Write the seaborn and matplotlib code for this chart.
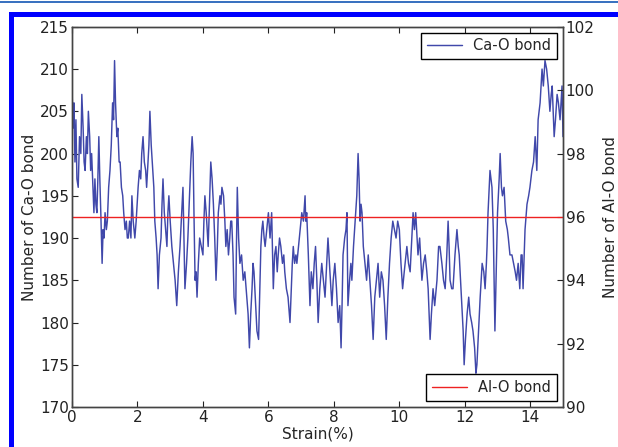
import numpy as np
import matplotlib
matplotlib.use('Agg')
import matplotlib.pyplot as plt
import seaborn as sns
from matplotlib.patches import Rectangle

# Ca-O bond count (strain in %)
strain = [
    0.00, 0.03, 0.06, 0.09, 0.12, 0.15, 0.19, 0.23, 0.27, 0.30, 0.34, 0.37, 0.40, 0.44, 0.47,
    0.50, 0.54, 0.57, 0.60, 0.64, 0.67, 0.70, 0.73, 0.76, 0.79, 0.82, 0.85, 0.88, 0.92, 0.95,
    0.98, 1.01, 1.05, 1.08, 1.12, 1.16, 1.20, 1.24, 1.27, 1.30, 1.33, 1.37, 1.40, 1.44, 1.47,
    1.51, 1.55, 1.58, 1.62, 1.66, 1.69, 1.72, 1.76, 1.80, 1.83, 1.87, 1.92, 1.96, 2.02, 2.06,
    2.10, 2.13, 2.17, 2.21, 2.25, 2.28, 2.32, 2.35, 2.38, 2.42, 2.47, 2.50, 2.53, 2.57, 2.60,
    2.63, 2.67, 2.72, 2.75, 2.78, 2.82, 2.86, 2.90, 2.93, 2.96, 3.00, 3.05, 3.10, 3.15, 3.20,
    3.25, 3.30, 3.35, 3.39, 3.42, 3.45, 3.50, 3.54, 3.58, 3.63, 3.67, 3.70, 3.73, 3.76, 3.79,
    3.82, 3.86, 3.90, 3.95, 4.00, 4.03, 4.06, 4.10, 4.13, 4.16, 4.20, 4.24, 4.28, 4.32, 4.36,
    4.40, 4.44, 4.47, 4.52, 4.55, 4.58, 4.63, 4.67, 4.70, 4.74, 4.78, 4.82, 4.85, 4.88, 4.92,
    4.95, 5.00, 5.02, 5.05, 5.09, 5.13, 5.18, 5.23, 5.28, 5.34, 5.38, 5.42, 5.46, 5.50, 5.53,
    5.56, 5.60, 5.65, 5.70, 5.74, 5.77, 5.80, 5.83, 5.87, 5.90, 5.95, 6.00, 6.05, 6.10, 6.15,
    6.19, 6.23, 6.27, 6.30, 6.34, 6.38, 6.43, 6.47, 6.50, 6.55, 6.60, 6.66, 6.70, 6.73, 6.76,
    6.80, 6.84, 6.87, 6.92, 6.97, 7.02, 7.07, 7.12, 7.14, 7.17, 7.22, 7.27, 7.31, 7.36, 7.40,
    7.44, 7.48, 7.52, 7.57, 7.63, 7.68, 7.73, 7.78, 7.82, 7.88, 7.94, 7.98, 8.03, 8.08, 8.13,
    8.18, 8.22, 8.25, 8.28, 8.33, 8.37, 8.40, 8.43, 8.48, 8.52, 8.55, 8.60, 8.65, 8.70, 8.74,
    8.77, 8.80, 8.83, 8.86, 8.90, 8.95, 9.00, 9.05, 9.10, 9.15, 9.20, 9.25, 9.30, 9.35, 9.40,
    9.45, 9.50, 9.55, 9.60, 9.65, 9.70, 9.75, 9.80, 9.85, 9.90, 9.95, 10.00, 10.05, 10.10, 10.15,
    10.23, 10.28, 10.33, 10.38, 10.42, 10.46, 10.50, 10.54, 10.57, 10.62, 10.66, 10.69, 10.74, 10.79, 10.84,
    10.88, 10.94, 10.98, 11.03, 11.08, 11.15, 11.20, 11.24, 11.30, 11.35, 11.40, 11.45, 11.49, 11.52, 11.55,
    11.60, 11.64, 11.70, 11.76, 11.80, 11.83, 11.87, 11.90, 11.95, 11.98, 12.02, 12.07, 12.12, 12.16, 12.21,
    12.25, 12.30, 12.34, 12.37, 12.42, 12.47, 12.53, 12.58, 12.62, 12.66, 12.68, 12.71, 12.77, 12.80, 12.83,
    12.87, 12.90, 12.92, 12.96, 13.00, 13.05, 13.08, 13.12, 13.15, 13.20, 13.25, 13.30, 13.33, 13.38, 13.44,
    13.49, 13.54, 13.58, 13.63, 13.68, 13.72, 13.75, 13.78, 13.84, 13.90, 13.95, 13.99, 14.05, 14.10, 14.15,
    14.20, 14.24, 14.30, 14.36, 14.40, 14.45, 14.50, 14.55, 14.60, 14.64, 14.67, 14.70, 14.73, 14.77, 14.82,
    14.86, 14.91, 14.94, 14.97, 15.00,
]
ca_o = [
    208, 203, 206, 199, 204, 197, 196, 202, 200, 207, 203, 199, 198, 202, 200,
    205, 202, 198, 200, 196, 193, 197, 194, 193, 197, 202, 197, 193, 187, 191,
    190, 193, 191, 192, 196, 198, 201, 206, 204, 211, 206, 202, 203, 199, 199,
    196, 195, 193, 191, 192, 190, 190, 192, 190, 195, 192, 190, 192, 196, 198,
    197, 200, 202, 199, 198, 196, 199, 201, 205, 201, 198, 196, 192, 190, 188,
    184, 188, 190, 194, 197, 193, 191, 189, 193, 195, 192, 189, 187, 185, 182,
    186, 189, 193, 196, 190, 184, 187, 190, 194, 199, 202, 200, 192, 185, 186,
    183, 187, 190, 189, 188, 192, 195, 193, 191, 189, 194, 199, 197, 194, 190,
    185, 189, 193, 195, 194, 196, 195, 192, 189, 191, 188, 190, 192, 192, 188,
    183, 181, 188, 196, 190, 187, 188, 185, 186, 183, 181, 177, 181, 184, 187,
    186, 183, 179, 178, 184, 189, 191, 192, 190, 189, 191, 193, 190, 193, 184,
    188, 189, 186, 188, 190, 189, 187, 188, 186, 184, 183, 180, 184, 187, 189,
    187, 188, 187, 189, 191, 193, 192, 195, 192, 193, 188, 182, 186, 184, 187,
    189, 185, 180, 184, 187, 185, 183, 187, 190, 186, 182, 185, 187, 184, 180,
    182, 177, 182, 188, 190, 191, 193, 182, 185, 187, 185, 189, 192, 195, 200,
    197, 192, 194, 193, 189, 187, 185, 188, 185, 182, 178, 183, 185, 187, 183,
    186, 185, 182, 178, 183, 187, 190, 192, 191, 190, 192, 191, 187, 184, 186,
    189, 187, 186, 190, 193, 191, 193, 190, 188, 190, 187, 185, 187, 188, 186,
    184, 178, 181, 184, 182, 185, 189, 189, 187, 185, 184, 188, 192, 189, 185,
    184, 184, 188, 191, 189, 188, 185, 183, 179, 175, 178, 181, 183, 181, 180,
    179, 177, 174, 175, 179, 183, 187, 186, 184, 187, 189, 193, 198, 197, 196,
    191, 184, 179, 186, 193, 197, 200, 196, 195, 196, 192, 191, 190, 188, 188,
    187, 186, 185, 187, 184, 188, 188, 184, 191, 194, 195, 196, 198, 199, 202,
    198, 204, 206, 210, 208, 211, 210, 208, 205, 207, 208, 205, 202, 204, 207,
    206, 204, 206, 208, 202,
]

# Al-O bond count stays flat
al_o_strain = [0, 15]
al_o = [96, 96]

sns.set_theme(style='white')
plt.rcParams['font.family'] = ['DejaVu Sans']

fig = plt.figure(figsize=(6.18, 4.47), dpi=100)
ax = fig.add_axes([0.1165, 0.0895, 0.7945, 0.8505])
ax2 = ax.twinx()

sns.lineplot(x=strain, y=ca_o, ax=ax, color='#4048aa', lw=1.05,
             estimator=None, sort=False, label='Ca-O bond')
sns.lineplot(x=al_o_strain, y=al_o, ax=ax2, color='#ee2222', lw=1.0,
             label='Al-O bond')

ax.set_xlim(0, 15)
ax.set_ylim(170, 215)
ax2.set_ylim(90, 102)
ax.set_xticks(range(0, 16, 2))
ax.set_yticks(range(170, 216, 5))
ax2.set_yticks(range(90, 103, 2))

ax.set_xlabel('Strain(%)', fontsize=11, labelpad=1)
ax.set_ylabel('Number of Ca-O bond', fontsize=11, labelpad=2)
ax2.set_ylabel('Number of Al-O bond', fontsize=11, labelpad=6)

ax.tick_params(axis='both', direction='in', length=4, width=0.8, labelsize=11,
               top=True, right=False, left=True, bottom=True, pad=2, colors='#222222')
ax2.tick_params(axis='y', direction='in', length=4, width=0.8, labelsize=11,
                right=True, pad=2, colors='#222222')
for a in (ax, ax2):
    for sp in a.spines.values():
        sp.set_color('#444444')
        sp.set_linewidth(1.0)

ax.legend(loc='upper right', fancybox=False, edgecolor='black', framealpha=1,
          fontsize=10.5, handlelength=2.4, borderpad=0.4, borderaxespad=0.4)
ax2.legend(loc='lower right', fancybox=False, edgecolor='black', framealpha=1,
           fontsize=10.5, handlelength=2.4, borderpad=0.4, borderaxespad=0.4)

# blue frame around the figure
W, H = 618, 447
fig.add_artist(Rectangle((0, 1 - 3 / H), 1, 2 / H, transform=fig.transFigure,
                         color='#3a72c0', lw=0))
fig.add_artist(Rectangle((9 / W, 1 - 17 / H), 1 - 9 / W, 5 / H, transform=fig.transFigure,
                         color='#0000ff', lw=0))
fig.add_artist(Rectangle((9 / W, 0), 5 / W, 1 - 12 / H, transform=fig.transFigure,
                         color='#0000ff', lw=0))

fig.savefig('out.png', dpi=100)
